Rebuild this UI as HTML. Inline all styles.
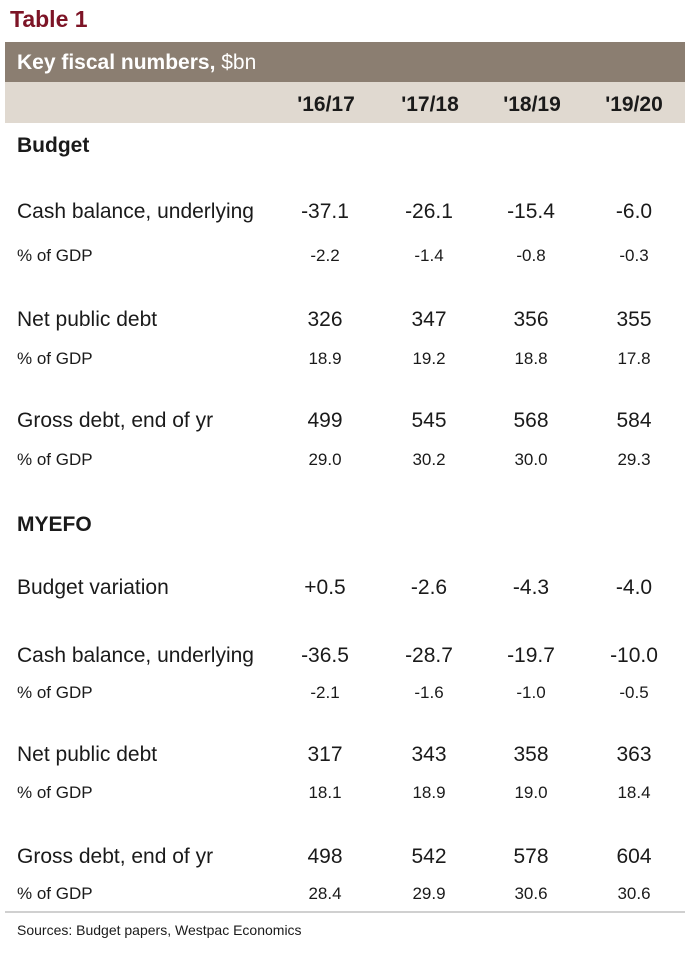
<!DOCTYPE html>
<html><head><meta charset="utf-8"><style>
body{margin:0;width:700px;height:966px;background:#fff;position:relative;font-family:"Liberation Sans",sans-serif;color:#1a1a1a;overflow:hidden}
.a{position:absolute;white-space:nowrap;line-height:1}
.c{position:absolute;white-space:nowrap;line-height:1;transform:translateX(-50%)}
.big{font-size:21px}
.sm{font-size:17px}
.h{font-weight:bold;font-size:21px}
</style></head><body>
<div class="a" style="left:10px;top:8px;font-size:23px;font-weight:bold;color:#7d1426">Table 1</div>
<div style="position:absolute;left:5px;top:42px;width:680px;height:40px;background:#8b7e71"></div>
<div class="a" style="left:17px;top:52px;font-size:21px;font-weight:bold;color:#fff">Key fiscal numbers, <span style="font-weight:normal">$bn</span></div>
<div style="position:absolute;left:5px;top:82px;width:680px;height:41px;background:#e0d9d0"></div>
<div class="c h" style="left:326px;top:94px">'16/17</div>
<div class="c h" style="left:430px;top:94px">'17/18</div>
<div class="c h" style="left:532px;top:94px">'18/19</div>
<div class="c h" style="left:634px;top:94px">'19/20</div>
<div class="a h" style="left:17px;top:135px">Budget</div>
<div class="a h" style="left:17px;top:514px">MYEFO</div>
<div style="position:absolute;left:5px;top:911px;width:680px;height:2px;background:#d0d0d0"></div>
<div class="a" style="left:17px;top:923px;font-size:14px">Sources: Budget papers, Westpac Economics</div>
<div id="rows"></div>
<script>
var rows=[
[201,1,"Cash balance, underlying",["-37.1","-26.1","-15.4","-6.0"]],
[247,0,"% of GDP",["-2.2","-1.4","-0.8","-0.3"]],
[309,1,"Net public debt",["326","347","356","355"]],
[350,0,"% of GDP",["18.9","19.2","18.8","17.8"]],
[410,1,"Gross debt, end of yr",["499","545","568","584"]],
[451,0,"% of GDP",["29.0","30.2","30.0","29.3"]],
[577,1,"Budget variation",["+0.5","-2.6","-4.3","-4.0"]],
[645,1,"Cash balance, underlying",["-36.5","-28.7","-19.7","-10.0"]],
[684,0,"% of GDP",["-2.1","-1.6","-1.0","-0.5"]],
[744,1,"Net public debt",["317","343","358","363"]],
[784,0,"% of GDP",["18.1","18.9","19.0","18.4"]],
[846,1,"Gross debt, end of yr",["498","542","578","604"]],
[885,0,"% of GDP",["28.4","29.9","30.6","30.6"]]];
var xs=[325,429,531,634],h="";
rows.forEach(function(r){var cl=r[1]?"big":"sm";
h+='<div class="a '+cl+'" style="left:17px;top:'+r[0]+'px">'+r[2]+'</div>';
r[3].forEach(function(v,i){h+='<div class="c '+cl+'" style="left:'+xs[i]+'px;top:'+r[0]+'px">'+v+'</div>';});});
document.getElementById("rows").innerHTML=h;
</script>
</body></html>
